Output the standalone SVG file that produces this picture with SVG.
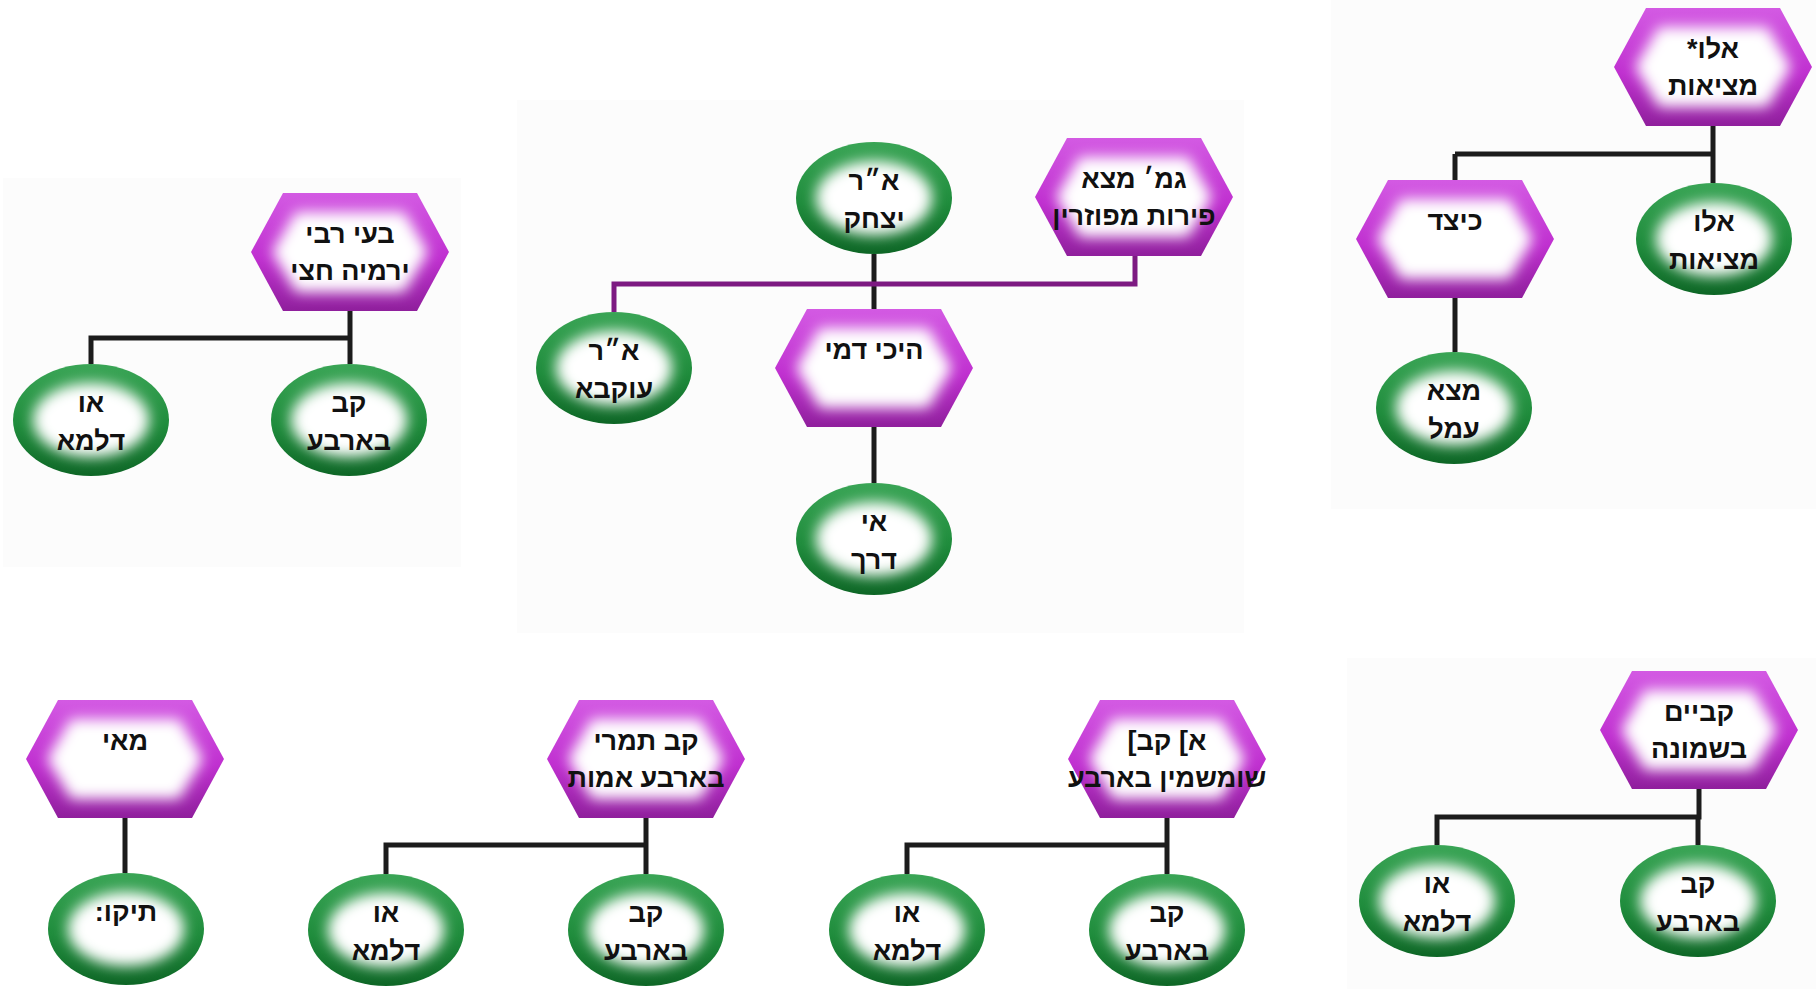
<svg xmlns="http://www.w3.org/2000/svg" xmlns:xlink="http://www.w3.org/1999/xlink" width="1816" height="989" viewBox="0 0 1816 989">
<style>
.t{font-family:"Liberation Sans","DejaVu Sans",sans-serif;font-weight:bold;font-size:27px;fill:#111;text-anchor:middle;direction:rtl;unicode-bidi:embed}
.ln{fill:none;stroke:#1c1c1c;stroke-width:5}
.lp{fill:none;stroke:#7d1a82;stroke-width:5}
.pn{fill:#fcfcfc}
</style>
<defs>
<linearGradient id="pg" x1="0" y1="0" x2="0" y2="1">
<stop offset="0" stop-color="#d35ae3"/>
<stop offset="0.55" stop-color="#c030d0"/>
<stop offset="1" stop-color="#8f1f9c"/>
</linearGradient>
<linearGradient id="gg" x1="0" y1="0" x2="0" y2="1">
<stop offset="0" stop-color="#3aa556"/>
<stop offset="0.55" stop-color="#1f8c3c"/>
<stop offset="1" stop-color="#0e6626"/>
</linearGradient>
<filter id="bl" x="-30%" y="-30%" width="160%" height="160%"><feGaussianBlur stdDeviation="7"/></filter>
<g id="hex">
<polygon points="-67,-59 67,-59 99,0 67,59 -67,59 -99,0" fill="url(#pg)"/>
<polygon points="-54,-40 54,-40 78,0 54,40 -54,40 -78,0" fill="#fff" filter="url(#bl)"/>
</g>
<g id="ell">
<ellipse rx="78" ry="56" fill="url(#gg)"/>
<ellipse rx="58" ry="37" fill="#fff" filter="url(#bl)"/>
</g>
</defs>
<rect width="1816" height="989" fill="#fff"/>
<g id="panels">
<rect class="pn" x="3" y="178" width="458" height="389"/>
<rect class="pn" x="517" y="100" width="727" height="533"/>
<rect class="pn" x="1331" y="0" width="485" height="509"/>
<rect class="pn" x="1347" y="658" width="469" height="331"/>
</g>
<g id="connectors">
<path class="ln" d="M1713,126 V154 M1455,154 H1713 M1713,154 V183 M1455,154 V180"/>
<path class="ln" d="M1455,298 V352"/>
<path class="ln" d="M874,254 V309"/>
<path class="ln" d="M874,427 V483"/>
<path class="lp" d="M1135,256 V284 H614 V312"/>
<path class="ln" d="M350,311 V338 H91 V364 M350,338 V364"/>
<path class="ln" d="M125,818 V873"/>
<path class="ln" d="M646,818 V845 H386 V874 M646,845 V874"/>
<path class="ln" d="M1167,818 V845 H907 V874 M1167,845 V874"/>
<path class="ln" d="M1699,789 V817 H1437 V845 M1698,817 V845"/>
</g>
<g id="h1" transform="translate(1713,67)"><use xlink:href="#hex"/><text class="t" y="-9">אלו*</text><text class="t" y="28">מציאות</text></g>
<g id="h2" transform="translate(1455,239)"><use xlink:href="#hex"/><text class="t" y="-9">כיצד</text></g>
<g id="h3" transform="translate(1134,197)"><use xlink:href="#hex"/><text class="t" y="-9">גמ׳ מצא</text><text class="t" y="28">פירות מפוזרין</text></g>
<g id="h4" transform="translate(874,368)"><use xlink:href="#hex"/><text class="t" y="-9">היכי דמי</text></g>
<g id="h5" transform="translate(350,252)"><use xlink:href="#hex"/><text class="t" y="-9">בעי רבי</text><text class="t" y="28">ירמיה חצי</text></g>
<g id="h6" transform="translate(125,759)"><use xlink:href="#hex"/><text class="t" y="-9">מאי</text></g>
<g id="h7" transform="translate(646,759)"><use xlink:href="#hex"/><text class="t" y="-9">קב תמרי</text><text class="t" y="28">בארבע אמות</text></g>
<g id="h8" transform="translate(1167,759)"><use xlink:href="#hex"/><text class="t" y="-9">א] קב]</text><text class="t" y="28">שומשמין בארבע</text></g>
<g id="h9" transform="translate(1699,730)"><use xlink:href="#hex"/><text class="t" y="-9">קביים</text><text class="t" y="28">בשמונה</text></g>
<g id="e1" transform="translate(1714,239)"><use xlink:href="#ell"/><text class="t" y="-8">אלו</text><text class="t" y="30">מציאות</text></g>
<g id="e2" transform="translate(1454,408)"><use xlink:href="#ell"/><text class="t" y="-8">מצא</text><text class="t" y="30">עמל</text></g>
<g id="e3" transform="translate(874,198)"><use xlink:href="#ell"/><text class="t" y="-8">א״ר</text><text class="t" y="30">יצחק</text></g>
<g id="e4" transform="translate(614,368)"><use xlink:href="#ell"/><text class="t" y="-8">א״ר</text><text class="t" y="30">עוקבא</text></g>
<g id="e5" transform="translate(874,539)"><use xlink:href="#ell"/><text class="t" y="-8">אי</text><text class="t" y="30">דרך</text></g>
<g id="e6" transform="translate(91,420)"><use xlink:href="#ell"/><text class="t" y="-8">או</text><text class="t" y="30">דלמא</text></g>
<g id="e7" transform="translate(349,420)"><use xlink:href="#ell"/><text class="t" y="-8">קב</text><text class="t" y="30">בארבע</text></g>
<g id="e8" transform="translate(126,929)"><use xlink:href="#ell"/><text class="t" y="-8">תיקו:</text></g>
<g id="e9" transform="translate(386,930)"><use xlink:href="#ell"/><text class="t" y="-8">או</text><text class="t" y="30">דלמא</text></g>
<g id="e10" transform="translate(646,930)"><use xlink:href="#ell"/><text class="t" y="-8">קב</text><text class="t" y="30">בארבע</text></g>
<g id="e11" transform="translate(907,930)"><use xlink:href="#ell"/><text class="t" y="-8">או</text><text class="t" y="30">דלמא</text></g>
<g id="e12" transform="translate(1167,930)"><use xlink:href="#ell"/><text class="t" y="-8">קב</text><text class="t" y="30">בארבע</text></g>
<g id="e13" transform="translate(1437,901)"><use xlink:href="#ell"/><text class="t" y="-8">או</text><text class="t" y="30">דלמא</text></g>
<g id="e14" transform="translate(1698,901)"><use xlink:href="#ell"/><text class="t" y="-8">קב</text><text class="t" y="30">בארבע</text></g>
</svg>
